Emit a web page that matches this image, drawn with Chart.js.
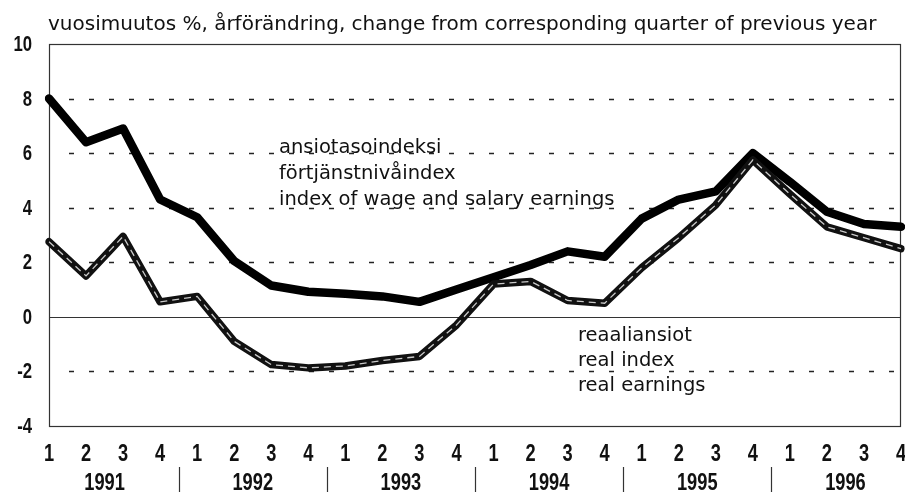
<!DOCTYPE html>
<html lang="fi">
<head>
<meta charset="UTF-8">
<title>Ansiotasoindeksi</title>
<script src="https://cdn.jsdelivr.net/npm/chart.js"></script>
<style>
  html, body { margin: 0; padding: 0; background: #fff; overflow: hidden; }
</style>
</head>
<body>
<canvas id="chart" width="905" height="492"></canvas>
<script>
const quarters = ['1','2','3','4','1','2','3','4','1','2','3','4','1','2','3','4','1','2','3','4','1','2','3','4'];
const years = ['1991', '1992', '1993', '1994', '1995', '1996'];
// nominal index of wage and salary earnings
const nominal = [8.0, 6.4, 6.9, 4.3, 3.65, 2.05, 1.15, 0.92, 0.85, 0.75, 0.55, 1.0,
                 1.45, 1.9, 2.4, 2.2, 3.6, 4.3, 4.6, 6.0, 4.95, 3.85, 3.4, 3.3];
// real earnings
const real = [2.75, 1.5, 2.95, 0.55, 0.75, -0.9, -1.75, -1.87, -1.8, -1.6, -1.45, -0.3,
              1.2, 1.3, 0.6, 0.5, 1.8, 2.9, 4.1, 5.75, 4.5, 3.3, 2.9, 2.5];
const yTicks = [10, 8, 6, 4, 2, 0, -2, -4];
const gridValues = [-2, 2, 4, 6, 8];
const titleText = 'vuosimuutos %, årförändring, change from corresponding quarter of previous year';
const nominalLabel = ['ansiotasoindeksi', 'förtjänstnivåindex', 'index of wage and salary earnings'];
const realLabel = ['reaaliansiot', 'real index', 'real earnings'];

const TEXT_FONT = '"DejaVu Sans", "Liberation Sans", sans-serif';
const NUM_FONT = '"Liberation Sans", Arial, sans-serif';

// narrow bold labels like the original's condensed face
function condensed(ctx, text, x, y, size) {
  ctx.save();
  ctx.font = 'bold ' + size + 'px ' + NUM_FONT;
  ctx.translate(x, y);
  ctx.scale(0.76, 1);
  ctx.fillText(text, 0, 0);
  ctx.restore();
}

const decorations = {
  id: 'decorations',
  beforeDatasetsDraw(chart) {
    const {ctx, chartArea: a, scales: {y}} = chart;
    ctx.save();
    // dashed grid
    ctx.strokeStyle = '#222';
    ctx.lineWidth = 1.6;
    ctx.setLineDash([5, 15]);
    gridValues.forEach(v => {
      const py = Math.round(y.getPixelForValue(v)) + 0.5;
      ctx.beginPath();
      ctx.moveTo(a.left + 20, py);
      ctx.lineTo(a.right, py);
      ctx.stroke();
    });
    ctx.setLineDash([]);
    // zero line
    ctx.strokeStyle = '#333';
    ctx.lineWidth = 1.2;
    const zy = Math.round(y.getPixelForValue(0)) + 0.5;
    ctx.beginPath();
    ctx.moveTo(a.left, zy);
    ctx.lineTo(a.right, zy);
    ctx.stroke();
    // frame
    ctx.strokeStyle = '#333';
    ctx.lineWidth = 1.2;
    ctx.strokeRect(Math.round(a.left) + 0.5, Math.round(a.top) + 0.5,
                   Math.round(a.right - a.left) - 1, Math.round(a.bottom - a.top));
    ctx.restore();
  },
  afterDraw(chart) {
    const {ctx, scales: {x, y}} = chart;
    ctx.save();
    ctx.fillStyle = '#111';
    // title
    ctx.font = '20px ' + TEXT_FONT;
    ctx.textAlign = 'left';
    ctx.textBaseline = 'alphabetic';
    ctx.fillText(titleText, 48, 30);
    // series labels
    ctx.font = '19.5px ' + TEXT_FONT;
    nominalLabel.forEach((t, i) => ctx.fillText(t, 279, 153 + i * 26));
    realLabel.forEach((t, i) => ctx.fillText(t, 578, 341 + i * 25));

    // y tick labels
    ctx.textBaseline = 'middle';
    ctx.textAlign = 'right';
    yTicks.forEach(v => condensed(ctx, String(v), 32, y.getPixelForValue(v) + 1, 22));

    // quarter labels
    ctx.textAlign = 'center';
    quarters.forEach((q, i) => condensed(ctx, q, x.getPixelForValue(i), 454, 24));

    // year labels and separators
    years.forEach((yr, i) => {
      const cx = (x.getPixelForValue(i * 4 + 1) + x.getPixelForValue(i * 4 + 2)) / 2;
      condensed(ctx, yr, cx, 483, 24);
      if (i > 0) {
        const sx = Math.round((x.getPixelForValue(i * 4 - 1) + x.getPixelForValue(i * 4)) / 2) + 0.5;
        ctx.strokeStyle = '#333';
        ctx.lineWidth = 1.2;
        ctx.beginPath();
        ctx.moveTo(sx, 467);
        ctx.lineTo(sx, 492);
        ctx.stroke();
      }
    });
    ctx.restore();
  }
};

new Chart(document.getElementById('chart'), {
  type: 'line',
  data: {
    labels: quarters,
    datasets: [
      {
        label: 'nominal',
        data: nominal,
        borderColor: '#000',
        borderWidth: 8.5,
        pointRadius: 0,
        tension: 0,
        order: 2,
        borderJoinStyle: 'round',
        borderCapStyle: 'round'
      },
      {
        label: 'real',
        data: real,
        borderColor: '#111',
        borderWidth: 7.5,
        pointRadius: 0,
        tension: 0,
        order: 1,
        borderJoinStyle: 'round',
        borderCapStyle: 'round'
      },
      {
        label: 'real inner',
        data: real,
        borderColor: 'rgba(235,235,235,0.85)',
        borderWidth: 1.3,
        borderDash: [7, 5],
        pointRadius: 0,
        tension: 0,
        order: 0
      }
    ]
  },
  options: {
    responsive: false,
    animation: false,
    devicePixelRatio: 1,
    layout: { padding: { top: 44, right: 4, left: 0, bottom: 0 } },
    plugins: { legend: { display: false }, tooltip: { enabled: false }, title: { display: false } },
    scales: {
      x: {
        offset: false,
        grid: { display: false, drawTicks: false },
        border: { display: false },
        ticks: { display: false },
        afterFit(s) { s.height = 66; s.paddingLeft = 0; s.paddingRight = 0; }
      },
      y: {
        min: -4,
        max: 10,
        grid: { display: false, drawTicks: false },
        border: { display: false },
        ticks: { display: false, stepSize: 2 },
        afterFit(s) { s.width = 49; s.paddingTop = 0; s.paddingBottom = 0; }
      }
    }
  },
  plugins: [decorations]
});
</script>
</body>
</html>
